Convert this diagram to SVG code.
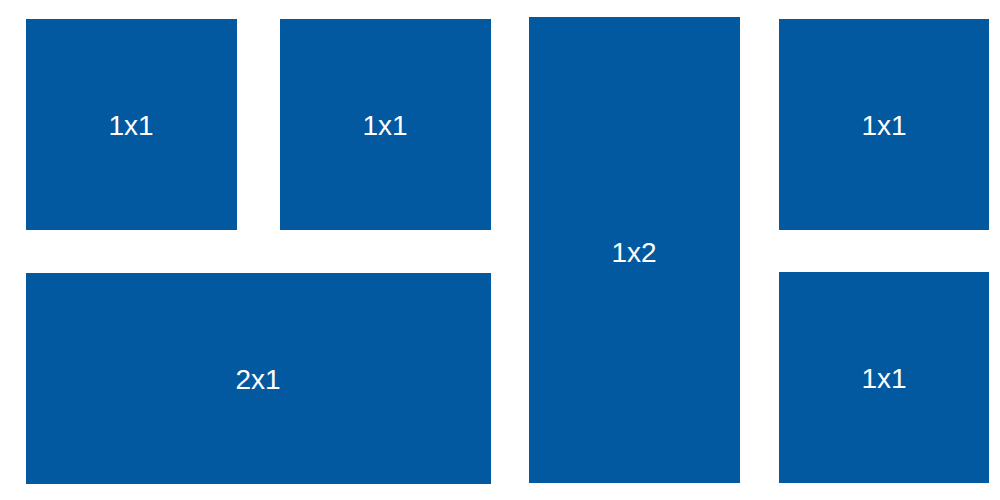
<svg xmlns="http://www.w3.org/2000/svg" width="1000" height="500" viewBox="0 0 1000 500">
<style>
rect{fill:#02599f}
text{fill:#fff;font-family:"Liberation Sans",Arial,sans-serif;font-size:28px;text-anchor:middle;dominant-baseline:central}
</style>
<rect x="0" y="0" width="1000" height="500" style="fill:#fff"/>
<g id="n1"><rect x="26" y="19" width="211" height="211"/><text x="131" y="125">1x1</text></g>
<g id="n2"><rect x="280" y="19" width="211" height="211"/><text x="385" y="125">1x1</text></g>
<g id="n3"><rect x="529" y="17" width="211" height="466"/><text x="634" y="252">1x2</text></g>
<g id="n4"><rect x="779" y="19" width="210" height="211"/><text x="884" y="125">1x1</text></g>
<g id="n5"><rect x="26" y="273" width="465" height="211"/><text x="258" y="379">2x1</text></g>
<g id="n6"><rect x="779" y="272" width="210" height="211"/><text x="884" y="378">1x1</text></g>
<g id="connectors"/>
</svg>
